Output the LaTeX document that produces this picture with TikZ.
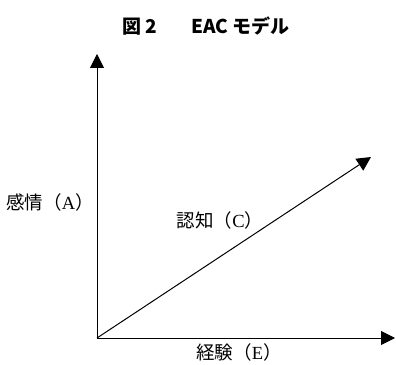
\documentclass[tikz,border=0pt]{standalone}
\usepackage{fontspec}
\usetikzlibrary{arrows.meta}
\setmainfont{Liberation Serif}
\newfontfamily\cjk{Noto Sans CJK JP}
\begin{document}
\begin{tikzpicture}[x=1pt,y=1pt,
  axis/.style={line width=1pt,-{Triangle[length=14pt,width=14pt]}},
  lbl/.style={font=\cjk\fontsize{18.5}{21}\selectfont,inner sep=0pt},
  ttl/.style={font=\cjk\bfseries\fontsize{19}{22}\selectfont,inner sep=0pt}]
\useasboundingbox (0,0) rectangle (396,364);
\coordinate (O) at (97,26);
\coordinate (Ytip) at (97,310);
\coordinate (Xtip) at (395,26);
\coordinate (Ctip) at (371,207);
\draw[axis] (O) -- (Ytip);
\draw[axis] (O) -- (Xtip);
\draw[axis] (O) -- (Ctip);
\node[ttl] (title) at (206,338) {図 2\hspace{1.8em}EAC モデル};
\node[lbl] (A) at (50,162) {感情（{\rmfamily A}）};
\node[lbl] (C) at (220,144) {認知（{\rmfamily C}）};
\node[lbl] (E) at (239,12) {経験（{\rmfamily E}）};
\end{tikzpicture}
\end{document}
